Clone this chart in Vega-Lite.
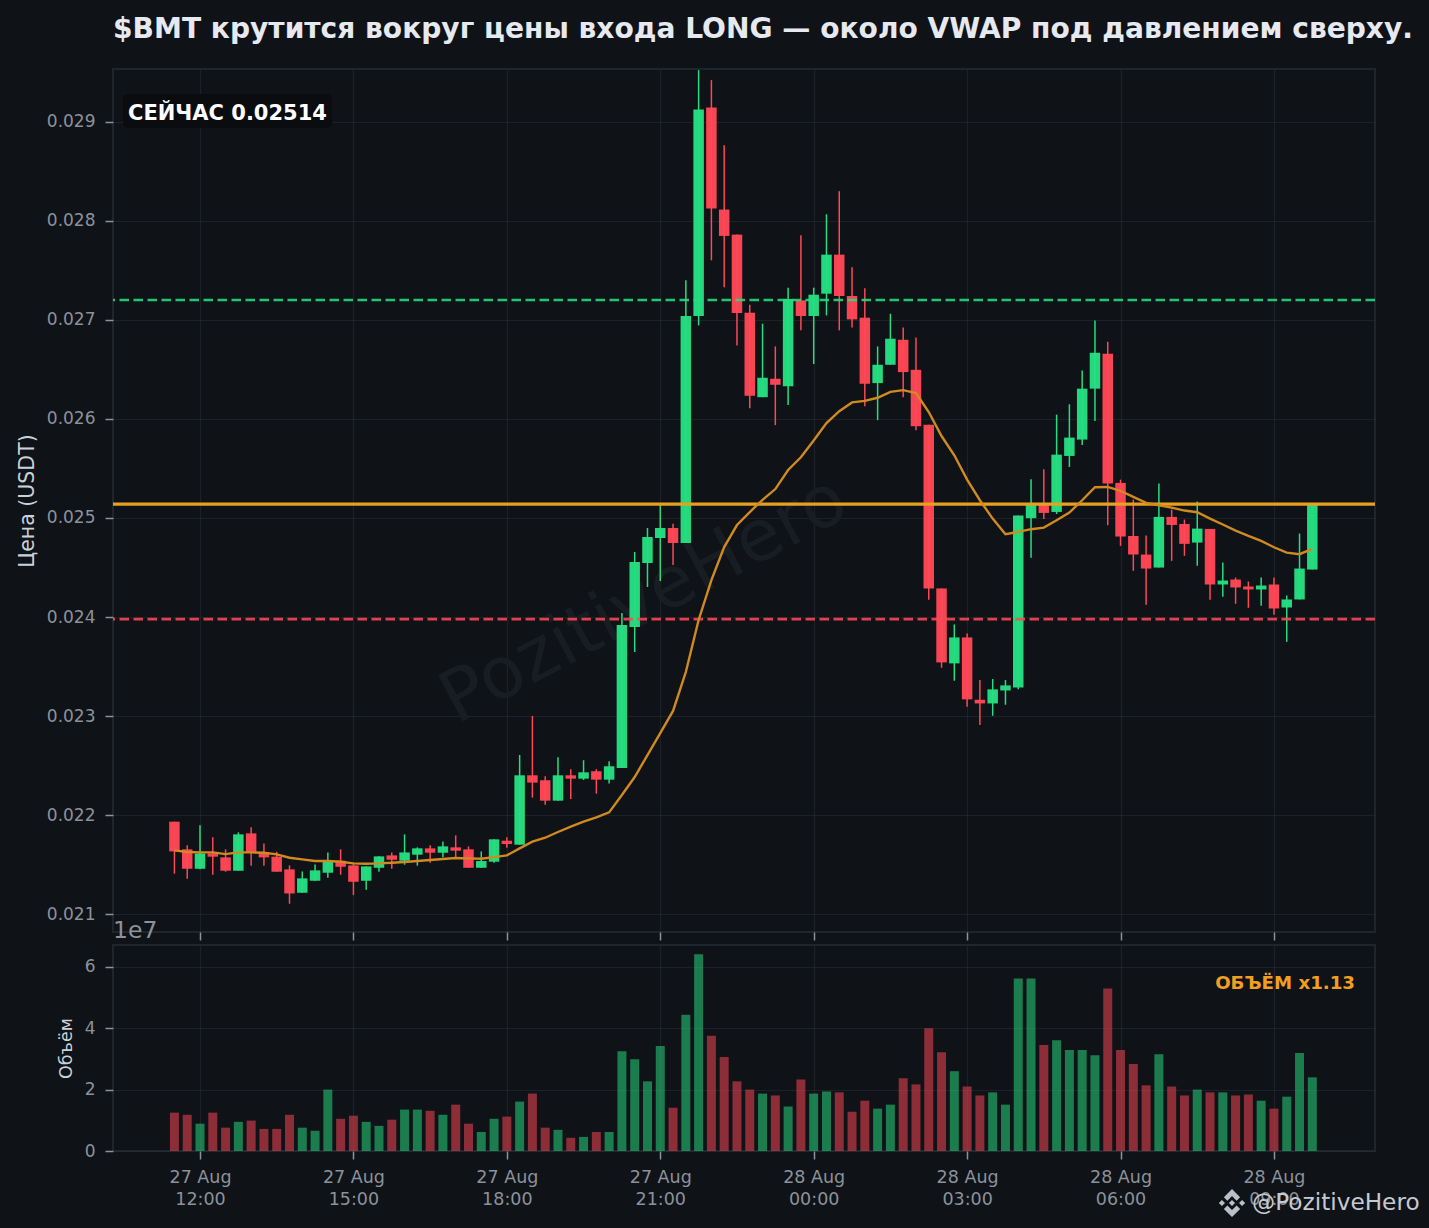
{"$schema":"https://vega.github.io/schema/vega-lite/v6.json","background":"#0f1217","padding":{"left":16,"top":15,"right":9,"bottom":9},"title":{"text":"$BMT крутится вокруг цены входа LONG — около VWAP под давлением сверху.","anchor":"start","frame":"group","font":"DejaVu Sans","fontWeight":"bold","fontSize":28.1,"color":"#e6e9ef","offset":24},"config":{"font":"DejaVu Sans","view":{"stroke":"#1e252d","strokeWidth":2},"axis":{"zindex":1,"domain":false,"grid":true,"gridColor":"#2a3038","gridOpacity":0.5,"gridWidth":1.2,"tickColor":"#8b929c","tickWidth":1.5,"tickSize":8,"labelColor":"#8b929c","labelFont":"DejaVu Sans","labelFontSize":17,"labelPadding":10,"titleColor":"#c9d1d9","titleFont":"DejaVu Sans","titleFontWeight":"normal"}},"datasets":{"candles":[
{"t":"2025-08-27T11:30:00Z","d":"down","o":0.021936,"h":0.021936,"l":0.021411,"c":0.021636,"v":12500000,"vw":0.021647},
{"t":"2025-08-27T11:45:00Z","d":"down","o":0.021657,"h":0.021697,"l":0.021361,"c":0.021461,"v":11800000,"vw":0.02163},
{"t":"2025-08-27T12:00:00Z","d":"up","o":0.021461,"h":0.021899,"l":0.021455,"c":0.021616,"v":8900000,"vw":0.021626},
{"t":"2025-08-27T12:15:00Z","d":"down","o":0.021616,"h":0.021778,"l":0.021401,"c":0.021583,"v":12500000,"vw":0.021626},
{"t":"2025-08-27T12:30:00Z","d":"down","o":0.021576,"h":0.021657,"l":0.021431,"c":0.021441,"v":7600000,"vw":0.021609},
{"t":"2025-08-27T12:45:00Z","d":"up","o":0.021441,"h":0.021828,"l":0.021441,"c":0.021808,"v":9500000,"vw":0.021626},
{"t":"2025-08-27T13:00:00Z","d":"down","o":0.021818,"h":0.021879,"l":0.021492,"c":0.021626,"v":9900000,"vw":0.021626},
{"t":"2025-08-27T13:15:00Z","d":"down","o":0.021626,"h":0.021717,"l":0.021492,"c":0.021576,"v":7200000,"vw":0.021623},
{"t":"2025-08-27T13:30:00Z","d":"down","o":0.021583,"h":0.021633,"l":0.021431,"c":0.021431,"v":7200000,"vw":0.021606},
{"t":"2025-08-27T13:45:00Z","d":"down","o":0.021455,"h":0.021495,"l":0.021108,"c":0.021212,"v":11800000,"vw":0.021572},
{"t":"2025-08-27T14:00:00Z","d":"up","o":0.021219,"h":0.021434,"l":0.021219,"c":0.021364,"v":7600000,"vw":0.021556},
{"t":"2025-08-27T14:15:00Z","d":"up","o":0.02134,"h":0.021505,"l":0.02134,"c":0.021445,"v":6600000,"vw":0.021539},
{"t":"2025-08-27T14:30:00Z","d":"up","o":0.021421,"h":0.021626,"l":0.02137,"c":0.021542,"v":20000000,"vw":0.021539},
{"t":"2025-08-27T14:45:00Z","d":"down","o":0.021542,"h":0.021657,"l":0.021401,"c":0.021481,"v":10500000,"vw":0.021532},
{"t":"2025-08-27T15:00:00Z","d":"down","o":0.021495,"h":0.021515,"l":0.021195,"c":0.02133,"v":11500000,"vw":0.021515},
{"t":"2025-08-27T15:15:00Z","d":"up","o":0.02134,"h":0.021485,"l":0.021249,"c":0.021485,"v":9500000,"vw":0.021512},
{"t":"2025-08-27T15:30:00Z","d":"up","o":0.021471,"h":0.021586,"l":0.021431,"c":0.021586,"v":8200000,"vw":0.021515},
{"t":"2025-08-27T15:45:00Z","d":"down","o":0.021596,"h":0.021626,"l":0.021461,"c":0.021552,"v":10200000,"vw":0.021522},
{"t":"2025-08-27T16:00:00Z","d":"up","o":0.021542,"h":0.021808,"l":0.021502,"c":0.021626,"v":13500000,"vw":0.021529},
{"t":"2025-08-27T16:15:00Z","d":"up","o":0.021603,"h":0.021677,"l":0.021492,"c":0.021667,"v":13500000,"vw":0.021539},
{"t":"2025-08-27T16:30:00Z","d":"down","o":0.021667,"h":0.021697,"l":0.021522,"c":0.021623,"v":13100000,"vw":0.021549},
{"t":"2025-08-27T16:45:00Z","d":"up","o":0.021623,"h":0.021737,"l":0.021576,"c":0.021687,"v":11800000,"vw":0.021559},
{"t":"2025-08-27T17:00:00Z","d":"down","o":0.021677,"h":0.021798,"l":0.021566,"c":0.021643,"v":15100000,"vw":0.021569},
{"t":"2025-08-27T17:15:00Z","d":"down","o":0.021657,"h":0.021687,"l":0.021471,"c":0.021471,"v":8900000,"vw":0.021566},
{"t":"2025-08-27T17:30:00Z","d":"up","o":0.021471,"h":0.021636,"l":0.021471,"c":0.021539,"v":6200000,"vw":0.021562},
{"t":"2025-08-27T17:45:00Z","d":"up","o":0.021532,"h":0.021758,"l":0.021522,"c":0.021758,"v":10500000,"vw":0.021579},
{"t":"2025-08-27T18:00:00Z","d":"down","o":0.021744,"h":0.021778,"l":0.021673,"c":0.021711,"v":11200000,"vw":0.021596},
{"t":"2025-08-27T18:15:00Z","d":"up","o":0.021704,"h":0.022609,"l":0.021704,"c":0.022404,"v":16100000,"vw":0.021667},
{"t":"2025-08-27T18:30:00Z","d":"down","o":0.022404,"h":0.023003,"l":0.022179,"c":0.02233,"v":18700000,"vw":0.021734},
{"t":"2025-08-27T18:45:00Z","d":"down","o":0.022354,"h":0.022394,"l":0.022108,"c":0.022148,"v":7600000,"vw":0.021774},
{"t":"2025-08-27T19:00:00Z","d":"up","o":0.022148,"h":0.022586,"l":0.022148,"c":0.022404,"v":6900000,"vw":0.021832},
{"t":"2025-08-27T19:15:00Z","d":"down","o":0.022404,"h":0.022465,"l":0.022165,"c":0.02237,"v":4300000,"vw":0.021886},
{"t":"2025-08-27T19:30:00Z","d":"up","o":0.02237,"h":0.022556,"l":0.022357,"c":0.022434,"v":4600000,"vw":0.021936},
{"t":"2025-08-27T19:45:00Z","d":"down","o":0.022445,"h":0.022465,"l":0.022219,"c":0.02236,"v":6200000,"vw":0.02198},
{"t":"2025-08-27T20:00:00Z","d":"up","o":0.02236,"h":0.022546,"l":0.02232,"c":0.022495,"v":6200000,"vw":0.02203},
{"t":"2025-08-27T20:15:00Z","d":"up","o":0.022477,"h":0.024041,"l":0.022477,"c":0.02392,"v":32500000,"vw":0.022205},
{"t":"2025-08-27T20:30:00Z","d":"up","o":0.0239,"h":0.024657,"l":0.023648,"c":0.024556,"v":29900000,"vw":0.022387},
{"t":"2025-08-27T20:45:00Z","d":"up","o":0.024546,"h":0.024899,"l":0.024304,"c":0.024808,"v":22700000,"vw":0.022608},
{"t":"2025-08-27T21:00:00Z","d":"up","o":0.024798,"h":0.025131,"l":0.024364,"c":0.024899,"v":34200000,"vw":0.02283},
{"t":"2025-08-27T21:15:00Z","d":"down","o":0.024899,"h":0.024941,"l":0.024526,"c":0.024748,"v":14100000,"vw":0.023053},
{"t":"2025-08-27T21:30:00Z","d":"up","o":0.024748,"h":0.027398,"l":0.024748,"c":0.027038,"v":44400000,"vw":0.023446},
{"t":"2025-08-27T21:45:00Z","d":"up","o":0.027038,"h":0.029519,"l":0.026943,"c":0.029122,"v":64100000,"vw":0.023971},
{"t":"2025-08-27T22:00:00Z","d":"down","o":0.029142,"h":0.029418,"l":0.0276,"c":0.028122,"v":37500000,"vw":0.024374},
{"t":"2025-08-27T22:15:00Z","d":"down","o":0.028112,"h":0.028761,"l":0.027327,"c":0.027846,"v":30600000,"vw":0.024707},
{"t":"2025-08-27T22:30:00Z","d":"down","o":0.027859,"h":0.027859,"l":0.026741,"c":0.027068,"v":22700000,"vw":0.024929},
{"t":"2025-08-27T22:45:00Z","d":"down","o":0.027071,"h":0.027152,"l":0.026108,"c":0.026233,"v":20000000,"vw":0.02506},
{"t":"2025-08-27T23:00:00Z","d":"up","o":0.026219,"h":0.02696,"l":0.026219,"c":0.026415,"v":18700000,"vw":0.025182},
{"t":"2025-08-27T23:15:00Z","d":"down","o":0.026405,"h":0.026731,"l":0.025937,"c":0.026344,"v":18100000,"vw":0.025292},
{"t":"2025-08-27T23:30:00Z","d":"up","o":0.02633,"h":0.027324,"l":0.026139,"c":0.027209,"v":14500000,"vw":0.025484},
{"t":"2025-08-27T23:45:00Z","d":"down","o":0.027196,"h":0.027852,"l":0.026893,"c":0.027038,"v":23300000,"vw":0.025613},
{"t":"2025-08-28T00:00:00Z","d":"up","o":0.027038,"h":0.027324,"l":0.026553,"c":0.027253,"v":18700000,"vw":0.025782},
{"t":"2025-08-28T00:15:00Z","d":"up","o":0.027263,"h":0.028064,"l":0.027044,"c":0.027657,"v":19400000,"vw":0.025957},
{"t":"2025-08-28T00:30:00Z","d":"down","o":0.027657,"h":0.028297,"l":0.026893,"c":0.02724,"v":19100000,"vw":0.026078},
{"t":"2025-08-28T00:45:00Z","d":"down","o":0.02724,"h":0.027529,"l":0.026923,"c":0.027004,"v":12800000,"vw":0.026166},
{"t":"2025-08-28T01:00:00Z","d":"down","o":0.027021,"h":0.027317,"l":0.026128,"c":0.026354,"v":16400000,"vw":0.026182},
{"t":"2025-08-28T01:15:00Z","d":"up","o":0.026361,"h":0.026731,"l":0.025987,"c":0.026546,"v":13800000,"vw":0.026213},
{"t":"2025-08-28T01:30:00Z","d":"up","o":0.026546,"h":0.027061,"l":0.026546,"c":0.026809,"v":15100000,"vw":0.026273},
{"t":"2025-08-28T01:45:00Z","d":"down","o":0.026798,"h":0.026923,"l":0.026219,"c":0.026472,"v":23700000,"vw":0.02629},
{"t":"2025-08-28T02:00:00Z","d":"down","o":0.026495,"h":0.026822,"l":0.025886,"c":0.025926,"v":21700000,"vw":0.02626},
{"t":"2025-08-28T02:15:00Z","d":"down","o":0.025942,"h":0.025942,"l":0.024174,"c":0.024289,"v":40000000,"vw":0.026069},
{"t":"2025-08-28T02:30:00Z","d":"down","o":0.024289,"h":0.024289,"l":0.023489,"c":0.023543,"v":32200000,"vw":0.025827},
{"t":"2025-08-28T02:45:00Z","d":"up","o":0.023533,"h":0.023926,"l":0.023358,"c":0.023795,"v":26000000,"vw":0.025633},
{"t":"2025-08-28T03:00:00Z","d":"down","o":0.023795,"h":0.023835,"l":0.023096,"c":0.02317,"v":21000000,"vw":0.025387},
{"t":"2025-08-28T03:15:00Z","d":"down","o":0.023166,"h":0.023365,"l":0.022911,"c":0.023129,"v":18100000,"vw":0.025179},
{"t":"2025-08-28T03:30:00Z","d":"up","o":0.023129,"h":0.023375,"l":0.023005,"c":0.023271,"v":19100000,"vw":0.024994},
{"t":"2025-08-28T03:45:00Z","d":"up","o":0.02326,"h":0.023365,"l":0.023116,"c":0.023311,"v":15100000,"vw":0.024836},
{"t":"2025-08-28T04:00:00Z","d":"up","o":0.023291,"h":0.025024,"l":0.023271,"c":0.025024,"v":56200000,"vw":0.02486},
{"t":"2025-08-28T04:15:00Z","d":"up","o":0.024998,"h":0.025391,"l":0.024598,"c":0.025145,"v":56200000,"vw":0.024887},
{"t":"2025-08-28T04:30:00Z","d":"down","o":0.025139,"h":0.025491,"l":0.024991,"c":0.025051,"v":34500000,"vw":0.024903},
{"t":"2025-08-28T04:45:00Z","d":"up","o":0.025061,"h":0.026043,"l":0.025041,"c":0.025639,"v":36100000,"vw":0.024977},
{"t":"2025-08-28T05:00:00Z","d":"up","o":0.025626,"h":0.026147,"l":0.025515,"c":0.025811,"v":32900000,"vw":0.025055},
{"t":"2025-08-28T05:15:00Z","d":"up","o":0.025791,"h":0.026489,"l":0.025737,"c":0.026305,"v":32900000,"vw":0.025179},
{"t":"2025-08-28T05:30:00Z","d":"up","o":0.026305,"h":0.026993,"l":0.025979,"c":0.026667,"v":31200000,"vw":0.02531},
{"t":"2025-08-28T05:45:00Z","d":"down","o":0.026657,"h":0.026778,"l":0.024927,"c":0.025347,"v":52900000,"vw":0.025313},
{"t":"2025-08-28T06:00:00Z","d":"down","o":0.025354,"h":0.025387,"l":0.024719,"c":0.024813,"v":32900000,"vw":0.025273},
{"t":"2025-08-28T06:15:00Z","d":"down","o":0.024819,"h":0.025186,"l":0.024467,"c":0.024631,"v":28300000,"vw":0.025213},
{"t":"2025-08-28T06:30:00Z","d":"down","o":0.024631,"h":0.024823,"l":0.024124,"c":0.02449,"v":21400000,"vw":0.025152},
{"t":"2025-08-28T06:45:00Z","d":"up","o":0.0245,"h":0.025347,"l":0.0245,"c":0.025011,"v":31500000,"vw":0.025129},
{"t":"2025-08-28T07:00:00Z","d":"down","o":0.025011,"h":0.025085,"l":0.024567,"c":0.02493,"v":21000000,"vw":0.025105},
{"t":"2025-08-28T07:15:00Z","d":"down","o":0.02494,"h":0.024984,"l":0.024618,"c":0.024739,"v":18100000,"vw":0.025075},
{"t":"2025-08-28T07:30:00Z","d":"up","o":0.024752,"h":0.025166,"l":0.024517,"c":0.024893,"v":20000000,"vw":0.025058},
{"t":"2025-08-28T07:45:00Z","d":"down","o":0.02489,"h":0.02489,"l":0.024174,"c":0.024329,"v":19100000,"vw":0.024994},
{"t":"2025-08-28T08:00:00Z","d":"up","o":0.024329,"h":0.024551,"l":0.024205,"c":0.024369,"v":19100000,"vw":0.024934},
{"t":"2025-08-28T08:15:00Z","d":"down","o":0.024379,"h":0.024399,"l":0.024134,"c":0.024299,"v":18100000,"vw":0.024873},
{"t":"2025-08-28T08:30:00Z","d":"down","o":0.024309,"h":0.024359,"l":0.024094,"c":0.024279,"v":18400000,"vw":0.024819},
{"t":"2025-08-28T08:45:00Z","d":"up","o":0.024279,"h":0.024399,"l":0.024114,"c":0.024319,"v":16400000,"vw":0.024769},
{"t":"2025-08-28T09:00:00Z","d":"down","o":0.024329,"h":0.024399,"l":0.024023,"c":0.024087,"v":13800000,"vw":0.024705},
{"t":"2025-08-28T09:15:00Z","d":"up","o":0.024097,"h":0.024218,"l":0.023751,"c":0.024178,"v":17700000,"vw":0.024651},
{"t":"2025-08-28T09:30:00Z","d":"up","o":0.024178,"h":0.024843,"l":0.024178,"c":0.02449,"v":31900000,"vw":0.024635},
{"t":"2025-08-28T09:45:00Z","d":"up","o":0.02448,"h":0.02514,"l":0.02448,"c":0.02514,"v":24000000,"vw":0.024688}
]},
"vconcat":[
{"width":1262,"height":863,"layer":[
{"data":{"values":[{"t":1756327255000,"p":0.024172,"s":"PozitiveHero"}]},"mark":{"type":"text","font":"DejaVu Sans","fontSize":72,"angle":332,"color":"#181d23","align":"center","baseline":"middle"},"encoding":{"x":{"field":"t","type":"temporal","scale":{"type":"utc","nice":false,"padding":0,"domain":[1756289876000,1756378713000]},"axis":{"values":[1756296000000,1756306800000,1756317600000,1756328400000,1756339200000,1756350000000,1756360800000,1756371600000],"labels":false,"title":null}},"y":{"field":"p","type":"quantitative","scale":{"domain":[0.020823,0.02953],"nice":false,"zero":false},"axis":{"values":[0.021,0.022,0.023,0.024,0.025,0.026,0.027,0.028,0.029],"format":".3f","title":"Цена (USDT)","titleFontSize":20.5,"titlePadding":9}},"text":{"field":"s"}}},
{"data":{"name":"candles"},"mark":{"type":"rule","strokeWidth":1.5},"encoding":{"x":{"field":"t","type":"temporal"},"y":{"field":"l","type":"quantitative"},"y2":{"field":"h"},"color":{"field":"d","type":"nominal","scale":{"domain":["up","down"],"range":["#26de81","#ff4757"]},"legend":null}}},
{"data":{"name":"candles"},"mark":{"type":"bar","size":10.5,"opacity":0.97},"encoding":{"x":{"field":"t","type":"temporal"},"y":{"field":"o","type":"quantitative"},"y2":{"field":"c"},"color":{"field":"d","type":"nominal","scale":{"domain":["up","down"],"range":["#26de81","#ff4757"]},"legend":null}}},
{"data":{"values":[{"p":0.0272,"k":"up"},{"p":0.02398,"k":"down"}]},"mark":{"type":"rule","strokeWidth":2.6,"strokeDash":[9.5,4.5],"opacity":0.88},"encoding":{"y":{"field":"p","type":"quantitative"},"color":{"field":"k","type":"nominal","scale":{"domain":["up","down"],"range":["#26de81","#ff4757"]},"legend":null}}},
{"data":{"values":[{"p":0.02514}]},"mark":{"type":"rule","strokeWidth":3.3,"color":"#e8a020"},"encoding":{"y":{"field":"p","type":"quantitative"}}},
{"data":{"name":"candles"},"mark":{"type":"line","strokeWidth":2.4,"color":"#d08a20","interpolate":"linear"},"encoding":{"x":{"field":"t","type":"temporal"},"y":{"field":"vw","type":"quantitative"}}},
{"data":{"values":[{"x1":1756290580000,"x2":1756305293000,"y1":0.029278,"y2":0.028936}]},"mark":{"type":"rect","color":"#0a0c0f","cornerRadius":5},"encoding":{"x":{"field":"x1","type":"temporal"},"x2":{"field":"x2"},"y":{"field":"y1","type":"quantitative"},"y2":{"field":"y2"}}},
{"data":{"values":[{"t":1756290932000,"p":0.029077,"s":"СЕЙЧАС 0.02514"}]},"mark":{"type":"text","font":"DejaVu Sans","fontWeight":"bold","fontSize":21,"color":"#ffffff","align":"left","baseline":"middle"},"encoding":{"x":{"field":"t","type":"temporal"},"y":{"field":"p","type":"quantitative"},"text":{"field":"s"}}},
{"data":{"values":[{"t":1756289876000,"p":0.020833,"s":"1e7"}]},"mark":{"type":"text","font":"DejaVu Sans","fontSize":23.5,"color":"#8b929c","align":"left","baseline":"middle"},"encoding":{"x":{"field":"t","type":"temporal"},"y":{"field":"p","type":"quantitative"},"text":{"field":"s"}}}
]},
{"width":1262,"height":206,"layer":[
{"data":{"name":"candles"},"mark":{"type":"bar","size":9,"opacity":0.52},"encoding":{"x":{"field":"t","type":"temporal","scale":{"type":"utc","nice":false,"padding":0,"domain":[1756289876000,1756378713000]},"axis":{"values":[1756296000000,1756306800000,1756317600000,1756328400000,1756339200000,1756350000000,1756360800000,1756371600000],"title":null,"labelAngle":0,"labelPadding":9,"labelFontSize":17.5,"labelLineHeight":22,"labelExpr":"[utcFormat(datum.value,'%d %b'),utcFormat(datum.value,'%H:%M')]"}},"y":{"field":"v","type":"quantitative","scale":{"domain":[0,67100000],"nice":false},"axis":{"values":[0,20000000,40000000,60000000],"labelExpr":"datum.value/10000000","title":"Объём","titleFontSize":17.5,"titlePadding":9}},"color":{"field":"d","type":"nominal","scale":{"domain":["up","down"],"range":["#26de81","#ff4757"]},"legend":null}}},
{"data":{"values":[{"t":1756377306000,"v":54400000,"s":"ОБЪЁМ x1.13"}]},"mark":{"type":"text","font":"DejaVu Sans","fontWeight":"bold","fontSize":18.2,"color":"#f0a020","align":"right","baseline":"middle"},"encoding":{"x":{"field":"t","type":"temporal"},"y":{"field":"v","type":"quantitative"},"text":{"field":"s"}}},
{"data":{"values":[{"t":1756370056000,"v":-16940000,"s":"@PozitiveHero"}]},"mark":{"type":"text","font":"DejaVu Sans","fontSize":23.2,"color":"#c5cad2","align":"left","baseline":"middle"},"encoding":{"x":{"field":"t","type":"temporal"},"y":{"field":"v","type":"quantitative"},"text":{"field":"s"}}},
{"data":{"values":[{"t":1756368647000,"v":-16940000}]},"mark":{"type":"point","filled":true,"size":784,"opacity":0.95,"color":"#c5cad2","strokeWidth":0,"shape":"M0,-0.22L0.22,0L0,0.22L-0.22,0ZM-0.72,-0.22L-0.5,0L-0.72,0.22L-0.94,0ZM0.72,-0.22L0.94,0L0.72,0.22L0.5,0ZM0,-1L0.58,-0.42L0.33,-0.17L0,-0.5L-0.33,-0.17L-0.58,-0.42ZM0,1L0.58,0.42L0.33,0.17L0,0.5L-0.33,0.17L-0.58,0.42Z"},"encoding":{"x":{"field":"t","type":"temporal"},"y":{"field":"v","type":"quantitative"}}}
]}
],"spacing":13,"bounds":"flush"}
